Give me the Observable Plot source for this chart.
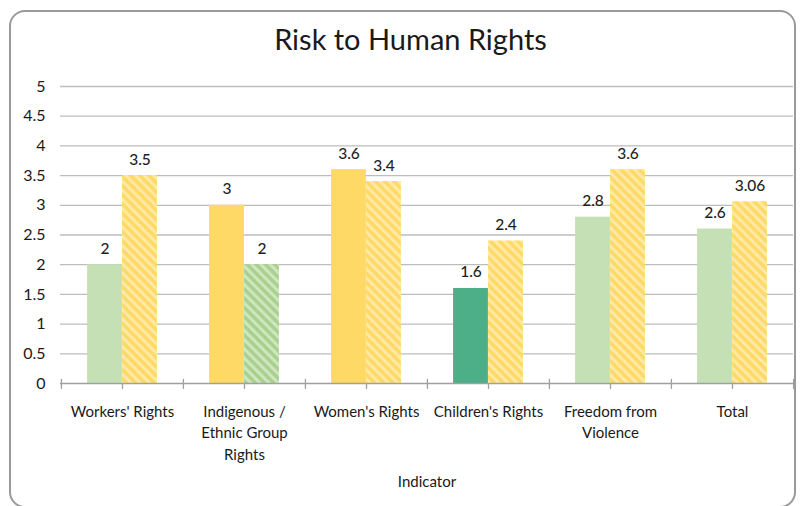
<!DOCTYPE html>
<html>
<head>
<meta charset="utf-8">
<script src="https://cdn.jsdelivr.net/npm/d3@7"></script>
<script src="https://cdn.jsdelivr.net/npm/@observablehq/plot@0.6"></script>
<style>
  html, body { margin: 0; padding: 0; background: #fff; }
  #wrap { position: relative; width: 801px; height: 506px; overflow: hidden; font-family: Lato, "Open Sans", sans-serif; }
  #frame { position: absolute; left: 9px; top: 10px; width: 783px; height: 494px; border: 2px solid #9a9a9a; border-radius: 16px; pointer-events: none; }
  #title { height: 70px; line-height: 70px; text-align: center; font-size: 29px; color: #1a1a1a; padding-left: 20px; padding-top: 4px; box-sizing: border-box; }
  svg { display: block; }
</style>
</head>
<body>
<div id="wrap">
  <div id="title">Risk to Human Rights</div>
  <div id="chart"></div>
  <div id="frame"></div>
</div>
<script>
// ---- data ----
const categories = ["Workers' Rights", "Indigenous / Ethnic Group Rights", "Women's Rights", "Children's Rights", "Freedom from Violence", "Total"];
const tickLabels = ["Workers' Rights", "Indigenous /\nEthnic Group\nRights", "Women's Rights", "Children's Rights", "Freedom from\nViolence", "Total"];
const solidValues = [2, 3, 3.6, 1.6, 2.8, 2.6];
const hatchedValues = [3.5, 2, 3.4, 2.4, 3.6, 3.06];
const solidLevel = ["light", "yellow", "yellow", "dark", "light", "light"];
const hatchedLevel = ["yellow", "light", "yellow", "yellow", "yellow", "yellow"];
const yTicks = [0, 0.5, 1, 1.5, 2, 2.5, 3, 3.5, 4, 4.5, 5];

// ---- styles ----
const solidFill = {light: "#c5e0b4", yellow: "#ffd966", dark: "#4daf88"};
const hatchFill = {light: "url(#hatch-green)", yellow: "url(#hatch-yellow)"};

const width = 801, marginLeft = 60, marginRight = 8;
const bw = (width - marginLeft - marginRight) / categories.length;
const barW = 35;

const rows = categories.map((c, i) => ({
  cat: c, label: tickLabels[i],
  s: solidValues[i], h: hatchedValues[i],
  sf: solidFill[solidLevel[i]], hf: hatchFill[hatchedLevel[i]]
}));

const chart = Plot.plot({
  width, height: 432,
  marginLeft, marginRight, marginTop: 16, marginBottom: 119,
  x: {type: "band", domain: categories, padding: 0, axis: null},
  y: {domain: [0, 5], ticks: yTicks, tickSize: 0, tickPadding: 15, tickFormat: d => String(d), label: null},
  color: {type: "identity"},
  style: {fontFamily: "Lato, 'Open Sans', sans-serif", fontSize: "16px", color: "#1a1a1a"},
  marks: [
    Plot.ruleY(yTicks.filter(d => d > 0), {y: d => d, stroke: "#bdbdbd", strokeWidth: 1.3}),
    Plot.barY(rows, {x: "cat", y: "s", fill: "sf", insetLeft: bw / 2 - barW, insetRight: bw / 2}),
    Plot.barY(rows, {x: "cat", y: "h", fill: "hf", insetLeft: bw / 2, insetRight: bw / 2 - barW}),
    Plot.ruleY([0], {stroke: "#a0a0a0", strokeWidth: 1.5}),
    Plot.ruleX(rows, {x: "cat", y1: 0, y2: -0.1, stroke: "#a0a0a0", strokeWidth: 1.3}),
    Plot.ruleX(rows, {x: "cat", y1: 0.07, y2: -0.1, dx: -bw / 2, stroke: "#a0a0a0", strokeWidth: 1.3}),
    Plot.ruleX(rows.slice(-1), {x: "cat", y1: 0.07, y2: -0.1, dx: bw / 2, stroke: "#a0a0a0", strokeWidth: 1.3}),
    Plot.text(rows, {x: "cat", y: "s", text: d => String(d.s), dx: -barW / 2, dy: -16, fill: "#1f1f1f", fontSize: 15.5, fontWeight: 500}),
    Plot.text(rows, {x: "cat", y: "h", text: d => String(d.h), dx: barW / 2, dy: -16, fill: "#1f1f1f", fontSize: 15.5, fontWeight: 500}),
    Plot.text(rows, {x: "cat", y: 0, text: "label", lineAnchor: "top", dy: 18, lineHeight: 1.43, fill: "#1a1a1a", fontSize: 15}),
    Plot.text(["Indicator"], {frameAnchor: "bottom", dy: 103, text: d => d, fill: "#1a1a1a", fontSize: 15})
  ]
});

const ns = "http://www.w3.org/2000/svg";
const defs = document.createElementNS(ns, "defs");
defs.innerHTML = `
  <pattern id="hatch-yellow" patternUnits="userSpaceOnUse" width="6.5" height="6.5" patternTransform="rotate(-45)">
    <rect width="6.5" height="6.5" fill="#ffd966"></rect>
    <rect width="3" height="6.5" fill="#ffe9a6"></rect>
  </pattern>
  <pattern id="hatch-green" patternUnits="userSpaceOnUse" width="6.5" height="6.5" patternTransform="rotate(-45)">
    <rect width="6.5" height="6.5" fill="#a9d18e"></rect>
    <rect width="3" height="6.5" fill="#cfe6c0"></rect>
  </pattern>`;
chart.insertBefore(defs, chart.firstChild);
document.getElementById("chart").appendChild(chart);
</script>
</body>
</html>
